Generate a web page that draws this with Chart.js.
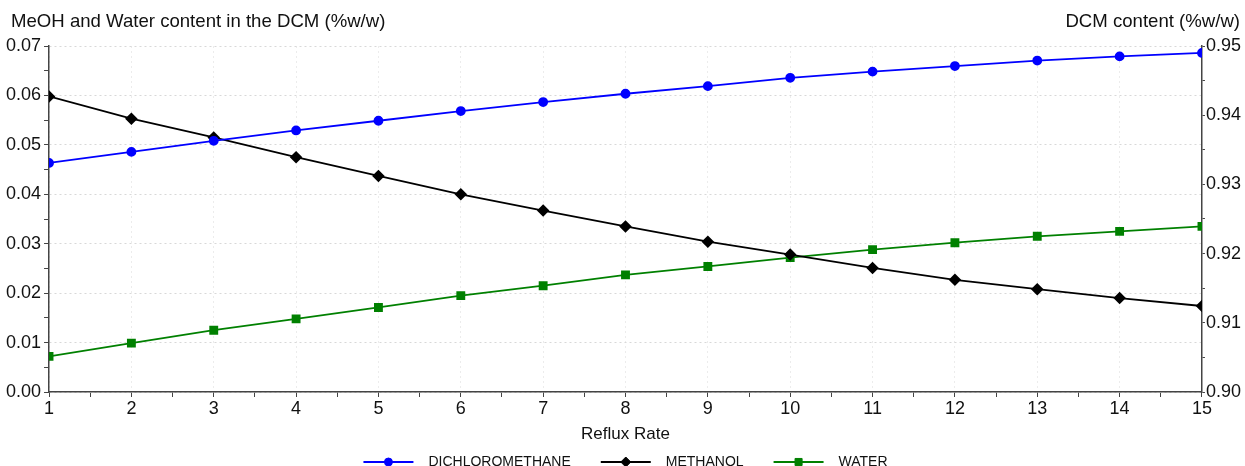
<!DOCTYPE html>
<html>
<head>
<meta charset="utf-8">
<script src="https://cdn.jsdelivr.net/npm/chart.js@4.4.1/dist/chart.umd.min.js"></script>
<style>
  html, body { margin: 0; padding: 0; background: #fff; }
  #wrap { width: 1245px; height: 466px; }
</style>
</head>
<body>
<div id="wrap"><canvas id="chart" width="1245" height="466"></canvas></div>
<script>
const refluxRate = [1, 2, 3, 4, 5, 6, 7, 8, 9, 10, 11, 12, 13, 14, 15];
const dichloromethane = [0.9331, 0.9347, 0.9363, 0.9378, 0.9392, 0.9406, 0.9419, 0.9431, 0.9442, 0.9454, 0.9463, 0.9471, 0.9479, 0.9485, 0.9490];
const methanol = [0.0598, 0.0553, 0.0515, 0.0475, 0.0437, 0.0400, 0.0367, 0.0335, 0.0304, 0.0278, 0.0251, 0.0227, 0.0208, 0.0190, 0.0174];
const water = [0.0072, 0.0099, 0.0125, 0.0148, 0.0171, 0.0195, 0.0215, 0.0237, 0.0254, 0.0272, 0.0288, 0.0302, 0.0315, 0.0325, 0.0335];

const leftTickLabels = [0.00, 0.01, 0.02, 0.03, 0.04, 0.05, 0.06, 0.07];
const rightTickLabels = [0.90, 0.91, 0.92, 0.93, 0.94, 0.95];
const seriesNames = ['DICHLOROMETHANE', 'METHANOL', 'WATER'];
const leftAxisTitle = 'MeOH and Water content in the DCM (%w/w)';
const rightAxisTitle = 'DCM content (%w/w)';
const xAxisTitle = 'Reflux Rate';

const FONT = 'Arial, "Liberation Sans", sans-serif';
const AXIS = '#444';
const TEXT = '#111';

const pts = vals => vals.map((v, i) => ({ x: refluxRate[i], y: v }));
const isMajor = (v, list) => list.some(t => Math.abs(t - v) < 1e-9);

// majors plus a minor tick halfway between each pair
function withMinors(list) {
  const out = [];
  list.forEach((v, i) => {
    out.push({ value: v });
    if (i < list.length - 1) out.push({ value: (v + list[i + 1]) / 2 });
  });
  return out;
}

// the two y axis titles sit horizontally above the plot corners
const cornerTitles = {
  id: 'cornerTitles',
  afterDraw(chart) {
    const ctx = chart.ctx;
    ctx.save();
    ctx.fillStyle = TEXT;
    ctx.font = '18.6px ' + FONT;
    ctx.textBaseline = 'alphabetic';
    ctx.textAlign = 'left';
    ctx.fillText(leftAxisTitle, 11, 27);
    ctx.textAlign = 'right';
    ctx.fillText(rightAxisTitle, 1240, 27);
    ctx.restore();
  }
};

// legend with a line segment through each marker
const lineLegend = {
  id: 'lineLegend',
  afterDraw(chart) {
    const ctx = chart.ctx;
    const lineW = 50, gap = 15, itemGap = 30, y = 462;
    ctx.save();
    ctx.font = '14px ' + FONT;
    const sets = chart.data.datasets;
    const widths = sets.map(d => lineW + gap + ctx.measureText(d.label).width);
    const total = widths.reduce((a, b) => a + b, 0) + itemGap * (sets.length - 1);
    let x = (chart.chartArea.left + chart.chartArea.right) / 2 - total / 2;
    sets.forEach((d, i) => {
      ctx.strokeStyle = d.borderColor;
      ctx.fillStyle = d.backgroundColor;
      ctx.lineWidth = 1.8;
      ctx.beginPath();
      ctx.moveTo(x, y);
      ctx.lineTo(x + lineW, y);
      ctx.stroke();
      ctx.lineWidth = 1;
      Chart.helpers.drawPoint(ctx, { pointStyle: d.pointStyle, radius: d.pointRadius, rotation: 0, borderWidth: 1 }, x + lineW / 2, y);
      ctx.fillStyle = TEXT;
      ctx.textAlign = 'left';
      ctx.textBaseline = 'middle';
      ctx.fillText(d.label, x + lineW + gap, y);
      x += widths[i] + itemGap;
    });
    ctx.restore();
  }
};

const ctx = document.getElementById('chart').getContext('2d');
const chart = new Chart(ctx, {
  type: 'line',
  data: {
    datasets: [
      {
        label: seriesNames[0], data: pts(dichloromethane), yAxisID: 'y1',
        borderColor: '#0000ff', backgroundColor: '#0000ff',
        pointStyle: 'circle', pointRadius: 4, borderWidth: 1.8
      },
      {
        label: seriesNames[1], data: pts(methanol), yAxisID: 'y',
        borderColor: '#000000', backgroundColor: '#000000',
        pointStyle: 'rectRot', pointRadius: 5, borderWidth: 1.8
      },
      {
        label: seriesNames[2], data: pts(water), yAxisID: 'y',
        borderColor: '#008000', backgroundColor: '#008000',
        pointStyle: 'rect', pointRadius: 5, borderWidth: 1.8
      }
    ]
  },
  options: {
    responsive: false,
    devicePixelRatio: 1,
    animation: false,
    layout: { padding: { left: 3, right: 3, top: 46, bottom: 17 } },
    plugins: {
      legend: { display: false },
      tooltip: { enabled: false }
    },
    scales: {
      x: {
        type: 'linear', min: 1, max: 15,
        afterBuildTicks: axis => { axis.ticks = withMinors(refluxRate); },
        ticks: {
          autoSkip: false, maxRotation: 0, padding: 1, color: TEXT,
          font: { size: 18, family: FONT },
          callback: v => Number.isInteger(v) ? String(v) : ''
        },
        grid: {
          tickLength: 5, tickColor: AXIS,
          color: c => (c.tick && Number.isInteger(c.tick.value)) ? '#ececec' : 'rgba(0,0,0,0)'
        },
        border: { color: AXIS, width: 1.5, dash: [2, 3] },
        title: {
          display: true, text: xAxisTitle, color: TEXT,
          font: { size: 17, family: FONT }, padding: { top: 4, bottom: 4 }
        }
      },
      y: {
        type: 'linear', position: 'left', min: 0, max: 0.07,
        afterBuildTicks: axis => { axis.ticks = withMinors(leftTickLabels); },
        ticks: {
          autoSkip: false, padding: 3, color: TEXT,
          font: { size: 18, family: FONT },
          callback: v => isMajor(v, leftTickLabels) ? v.toFixed(2) : ''
        },
        grid: {
          tickLength: 5, tickColor: AXIS,
          color: c => (c.tick && isMajor(c.tick.value, leftTickLabels)) ? '#d8d8d8' : 'rgba(0,0,0,0)'
        },
        border: { color: AXIS, width: 1.5, dash: [2, 3] }
      },
      y1: {
        type: 'linear', position: 'right', min: 0.90, max: 0.95,
        afterBuildTicks: axis => { axis.ticks = withMinors(rightTickLabels); },
        ticks: {
          autoSkip: false, padding: 1, color: TEXT,
          font: { size: 18, family: FONT },
          callback: v => isMajor(v, rightTickLabels) ? v.toFixed(2) : ''
        },
        grid: { drawOnChartArea: false, tickLength: 3, tickColor: AXIS },
        border: { color: AXIS, width: 1.5 }
      }
    }
  },
  plugins: [cornerTitles, lineLegend]
});
</script>
</body>
</html>
